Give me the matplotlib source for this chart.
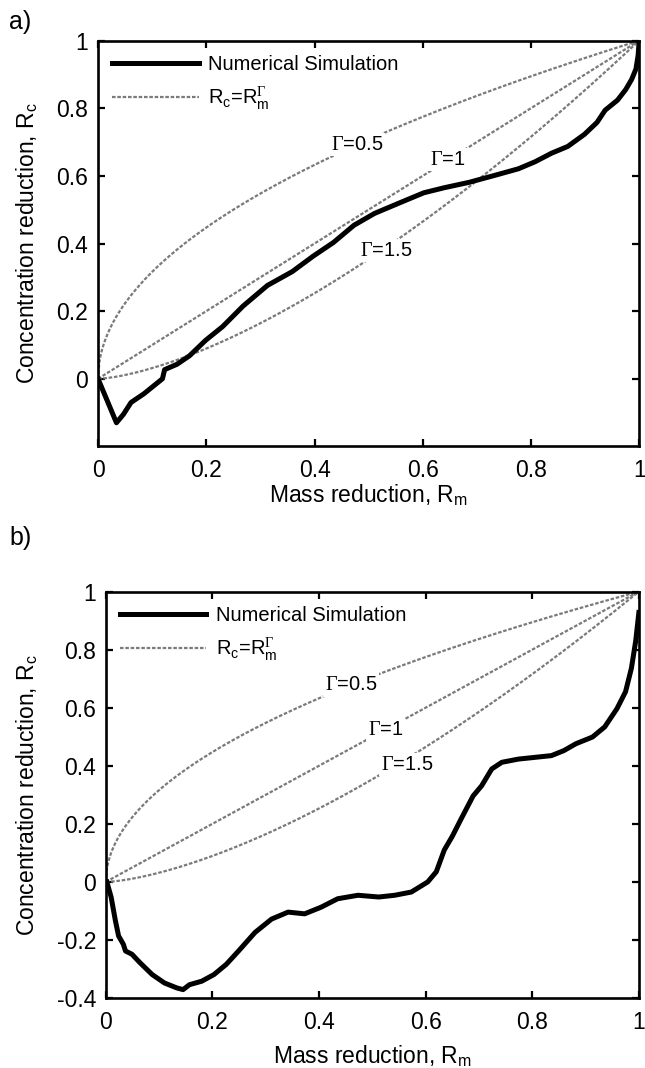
import matplotlib
matplotlib.use("Agg")
import matplotlib.pyplot as plt
import numpy as np

plt.rcParams['font.family'] = ['Liberation Sans', 'DejaVu Sans']
plt.rcParams['mathtext.fontset'] = 'custom'
plt.rcParams['mathtext.rm'] = 'Liberation Sans'
plt.rcParams['mathtext.sf'] = 'Liberation Serif'

# panel a) numerical simulation
sim_a_x = [0.0, 0.034, 0.047, 0.061, 0.085, 0.119, 0.123, 0.146, 0.169, 0.199,
           0.23, 0.268, 0.313, 0.359, 0.397, 0.435, 0.473, 0.511, 0.557, 0.602,
           0.64, 0.686, 0.732, 0.777, 0.808, 0.838, 0.868, 0.899, 0.922, 0.937,
           0.96, 0.975, 0.986, 0.994, 0.998, 1.0]
sim_a_y = [0.0, -0.13, -0.105, -0.07, -0.044, 0.0, 0.027, 0.043, 0.068, 0.114,
           0.154, 0.215, 0.276, 0.317, 0.362, 0.403, 0.454, 0.489, 0.52, 0.55,
           0.565, 0.581, 0.601, 0.621, 0.642, 0.667, 0.687, 0.723, 0.758, 0.794,
           0.824, 0.855, 0.885, 0.916, 0.956, 1.0]

# panel b) numerical simulation
sim_b_x = [0.002, 0.01, 0.018, 0.024, 0.033, 0.037, 0.049, 0.064, 0.087, 0.11,
           0.133, 0.145, 0.157, 0.18, 0.203, 0.226, 0.249, 0.28, 0.311, 0.342,
           0.373, 0.404, 0.435, 0.473, 0.512, 0.542, 0.573, 0.604, 0.62, 0.635,
           0.65, 0.666, 0.689, 0.705, 0.724, 0.743, 0.774, 0.805, 0.836, 0.859,
           0.882, 0.913, 0.936, 0.959, 0.975, 0.986, 0.994, 1.0]
sim_b_y = [0.0, -0.052, -0.133, -0.186, -0.215, -0.238, -0.249, -0.278, -0.319, -0.348,
           -0.365, -0.371, -0.354, -0.342, -0.319, -0.284, -0.238, -0.174, -0.128, -0.104,
           -0.11, -0.087, -0.058, -0.046, -0.052, -0.046, -0.035, 0.0, 0.035, 0.11,
           0.157, 0.215, 0.296, 0.331, 0.389, 0.412, 0.423, 0.429, 0.435, 0.452,
           0.476, 0.499, 0.534, 0.597, 0.655, 0.736, 0.829, 0.928]

gammas = [0.5, 1, 1.5]
gamma_text = ['0.5', '1', '1.5']
label_x_a = [0.478, 0.647, 0.533]
label_x_b = [0.46, 0.525, 0.565]

yticks_a = [0, 0.2, 0.4, 0.6, 0.8, 1]
yticks_b = [-0.4, -0.2, 0, 0.2, 0.4, 0.6, 0.8, 1]
xticks = [0, 0.2, 0.4, 0.6, 0.8, 1]


def draw_panel(ax, sx, sy, label_x, ylim, yticks, dy, ylab_x, xlab_y):
    rm = np.linspace(0, 1, 400)
    ax.plot(sx, sy, color='black', lw=3.6, label='Numerical Simulation', zorder=3)
    for i, g in enumerate(gammas):
        ax.plot(rm, rm ** g, color='#7a7a7a', lw=1.6, ls=(0, (1.6, 0.8)),
                label=r'R$_\mathregular{c}$=R$_\mathregular{m}^{\mathsf{\Gamma}}$' if i == 0 else None,
                zorder=2)
        lx = label_x[i]
        ax.text(lx, lx ** g + dy[i], r'$\mathsf{\Gamma}$=' + gamma_text[i], fontsize=14.5,
                ha='center', va='center', zorder=2.5,
                bbox=dict(facecolor='white', edgecolor='none', pad=1.5))
    ax.set_xlim(0, 1)
    ax.set_ylim(*ylim)
    ax.set_xticks(xticks)
    ax.set_xticklabels(['0', '0.2', '0.4', '0.6', '0.8', '1'])
    ax.set_yticks(yticks)
    ax.set_yticklabels([('%g' % t) for t in yticks])
    ax.tick_params(direction='in', top=True, right=True, labelsize=16.5, length=5, width=1.6)
    ax.tick_params(axis='x', pad=9)
    ax.tick_params(axis='y', pad=7)
    for s in ax.spines.values():
        s.set_linewidth(1.9)
    ax.set_xlabel(r'Mass reduction, R$_\mathregular{m}$', fontsize=16.5, va='top')
    ax.set_ylabel(r'Concentration reduction, R$_\mathregular{c}$', fontsize=16.5)
    ax.xaxis.set_label_coords(0.5, xlab_y)
    ax.yaxis.set_label_coords(ylab_x, 0.5)
    ax.legend(loc='upper left', frameon=False, fontsize=14.5, handlelength=4.3,
              handletextpad=0.45, labelspacing=0.55, borderaxespad=0.3)


fig = plt.figure(figsize=(6.45, 10.68), dpi=100)
ax1 = fig.add_axes([0.152, 0.582, 0.839, 0.380])
ax2 = fig.add_axes([0.164, 0.0655, 0.8265, 0.3806])

draw_panel(ax1, sim_a_x, sim_a_y, label_x_a, (-0.2, 1), yticks_a, [0.0, 0.0, -0.01],
           -0.107, -0.087)
draw_panel(ax2, sim_b_x, sim_b_y, label_x_b, (-0.4, 1), yticks_b, [0.0, 0.0, -0.02],
           -0.123, -0.111)

fig.text(0.014, 0.979, 'a)', fontsize=18, va='center')
fig.text(0.014, 0.496, 'b)', fontsize=18, va='center')

fig.savefig('out.png', dpi=100)
